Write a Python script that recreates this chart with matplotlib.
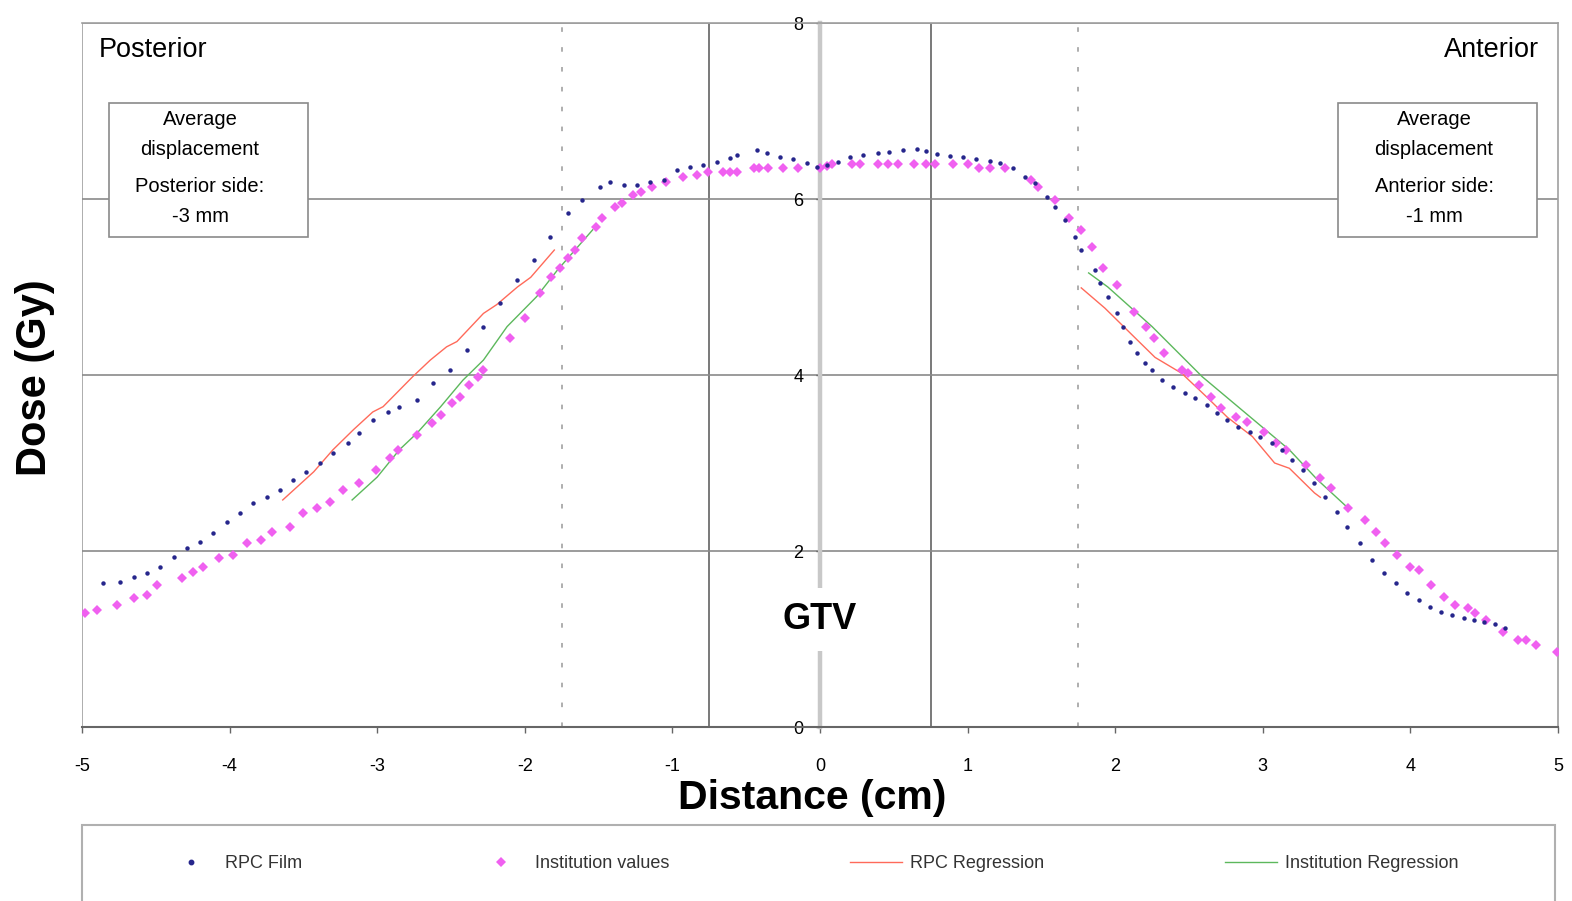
import matplotlib
matplotlib.use("Agg")
import matplotlib.pyplot as plt
from matplotlib.lines import Line2D
from matplotlib.patches import Rectangle

plt.rcParams["font.family"] = ["Liberation Sans", "DejaVu Sans"]
plt.rcParams["axes.unicode_minus"] = False

# ----------------------------------------------------------------------
# DATA
# ----------------------------------------------------------------------
film_x = [-4.86, -4.74, -4.65, -4.56, -4.47, -4.38, -4.29, -4.20, -4.11, -4.02,
          -3.93, -3.84, -3.75, -3.66, -3.57, -3.48, -3.39, -3.30, -3.20, -3.12,
          -3.03, -2.93, -2.85, -2.73, -2.62, -2.51, -2.39, -2.28, -2.17, -2.05,
          -1.94, -1.83, -1.71, -1.61, -1.49, -1.42, -1.33, -1.24, -1.15, -1.06,
          -0.97, -0.88, -0.79, -0.70, -0.61, -0.56, -0.43, -0.36, -0.27, -0.18,
          -0.09, -0.02, 0.05, 0.12, 0.20, 0.29, 0.39, 0.47, 0.56, 0.66,
          0.72, 0.79, 0.88, 0.97, 1.06, 1.15, 1.22, 1.31, 1.39, 1.46,
          1.54, 1.59, 1.66, 1.73, 1.77, 1.86, 1.90, 1.95, 2.01, 2.05,
          2.10, 2.15, 2.20, 2.25, 2.32, 2.39, 2.47, 2.54, 2.62, 2.69,
          2.76, 2.83, 2.91, 2.98, 3.06, 3.13, 3.20, 3.27, 3.35, 3.42,
          3.50, 3.57, 3.66, 3.74, 3.82, 3.90, 3.98, 4.06, 4.13, 4.21,
          4.28, 4.36, 4.43, 4.50, 4.57, 4.64]
film_dose = [1.64, 1.65, 1.70, 1.75, 1.82, 1.93, 2.03, 2.10, 2.20, 2.33,
             2.43, 2.55, 2.61, 2.69, 2.81, 2.90, 3.00, 3.11, 3.23, 3.34,
             3.49, 3.58, 3.64, 3.72, 3.91, 4.06, 4.28, 4.55, 4.82, 5.08,
             5.31, 5.57, 5.84, 5.99, 6.14, 6.19, 6.16, 6.16, 6.19, 6.22,
             6.33, 6.36, 6.39, 6.42, 6.47, 6.50, 6.56, 6.52, 6.48, 6.45,
             6.41, 6.36, 6.39, 6.42, 6.48, 6.50, 6.52, 6.53, 6.56, 6.57,
             6.55, 6.51, 6.49, 6.48, 6.45, 6.43, 6.41, 6.35, 6.25, 6.18,
             6.02, 5.91, 5.76, 5.57, 5.42, 5.19, 5.05, 4.89, 4.70, 4.55,
             4.38, 4.25, 4.14, 4.06, 3.94, 3.86, 3.80, 3.74, 3.66, 3.57,
             3.49, 3.41, 3.35, 3.30, 3.23, 3.15, 3.03, 2.92, 2.77, 2.61,
             2.44, 2.27, 2.09, 1.90, 1.75, 1.64, 1.52, 1.44, 1.36, 1.31,
             1.27, 1.24, 1.22, 1.19, 1.17, 1.12]

inst_x = [-4.98, -4.90, -4.76, -4.65, -4.56, -4.49, -4.32, -4.25, -4.18, -4.07,
          -3.98, -3.88, -3.79, -3.71, -3.59, -3.50, -3.41, -3.32, -3.23, -3.12,
          -3.01, -2.91, -2.86, -2.73, -2.63, -2.57, -2.49, -2.44, -2.38, -2.32,
          -2.28, -2.10, -2.00, -1.90, -1.82, -1.76, -1.71, -1.66, -1.61, -1.52,
          -1.48, -1.39, -1.34, -1.27, -1.21, -1.14, -1.04, -0.93, -0.83, -0.76,
          -0.66, -0.61, -0.56, -0.45, -0.41, -0.35, -0.25, -0.15, 0.00, 0.05,
          0.08, 0.22, 0.27, 0.39, 0.46, 0.53, 0.64, 0.72, 0.78, 0.90,
          1.00, 1.08, 1.15, 1.25, 1.43, 1.48, 1.59, 1.69, 1.77, 1.84,
          1.92, 2.01, 2.13, 2.21, 2.26, 2.33, 2.45, 2.49, 2.57, 2.65,
          2.72, 2.82, 2.89, 3.01, 3.09, 3.16, 3.29, 3.39, 3.46, 3.58,
          3.69, 3.77, 3.83, 3.91, 4.00, 4.06, 4.14, 4.23, 4.30, 4.39,
          4.44, 4.51, 4.63, 4.73, 4.78, 4.85, 4.99]
inst_dose = [1.30, 1.33, 1.39, 1.47, 1.50, 1.61, 1.69, 1.76, 1.82, 1.92,
             1.95, 2.09, 2.13, 2.22, 2.27, 2.43, 2.49, 2.56, 2.69, 2.77,
             2.92, 3.06, 3.15, 3.32, 3.45, 3.55, 3.68, 3.75, 3.89, 3.98,
             4.06, 4.42, 4.65, 4.93, 5.11, 5.22, 5.33, 5.42, 5.56, 5.68,
             5.78, 5.91, 5.95, 6.05, 6.08, 6.14, 6.19, 6.25, 6.27, 6.31,
             6.31, 6.31, 6.31, 6.35, 6.35, 6.35, 6.35, 6.35, 6.35, 6.38,
             6.40, 6.40, 6.40, 6.40, 6.40, 6.40, 6.40, 6.40, 6.40, 6.40,
             6.40, 6.35, 6.35, 6.35, 6.22, 6.14, 5.99, 5.78, 5.65, 5.45,
             5.22, 5.02, 4.72, 4.55, 4.42, 4.25, 4.06, 4.02, 3.89, 3.75,
             3.63, 3.52, 3.47, 3.35, 3.23, 3.15, 2.98, 2.83, 2.72, 2.49,
             2.35, 2.22, 2.09, 1.95, 1.82, 1.78, 1.61, 1.48, 1.39, 1.35,
             1.30, 1.22, 1.08, 0.99, 0.99, 0.93, 0.85]

# regression curves, posterior and anterior sides
rpc_reg_post_x = [-3.64, -3.43, -3.30, -3.16, -3.03, -2.96, -2.76, -2.64,
                  -2.53, -2.46, -2.28, -2.19, -2.05, -1.96, -1.80]
rpc_reg_post_dose = [2.58, 2.90, 3.15, 3.38, 3.58, 3.64, 3.98, 4.17,
                     4.32, 4.38, 4.70, 4.80, 5.00, 5.11, 5.42]
rpc_reg_ant_x = [1.77, 1.93, 2.13, 2.27, 2.45, 2.62, 2.76, 2.93, 3.08, 3.18, 3.35, 3.39]
rpc_reg_ant_dose = [4.99, 4.76, 4.43, 4.20, 4.02, 3.75, 3.52, 3.30, 3.00, 2.94, 2.66, 2.61]

inst_reg_post_x = [-3.17, -3.00, -2.85, -2.73, -2.57, -2.42, -2.28, -2.12, -1.92, -1.78, -1.54]
inst_reg_post_dose = [2.58, 2.84, 3.15, 3.34, 3.64, 3.94, 4.17, 4.55, 4.89, 5.19, 5.65]
inst_reg_ant_x = [1.82, 1.95, 2.25, 2.59, 2.86, 3.18, 3.37, 3.57]
inst_reg_ant_dose = [5.16, 5.00, 4.55, 3.98, 3.60, 3.15, 2.81, 2.50]

gtv_edges = [-0.75, 0.75]
margin_edges = [-1.75, 1.75]
x_ticks = list(range(-5, 6))
y_ticks = [0, 2, 4, 6, 8]

BLUE = "#26268c"
PINK = "#f060f0"
RED = "#ff6a5a"
GREEN = "#5cb85c"

W, H = 1572, 901


def main():
    fig = plt.figure(figsize=(W / 100, H / 100), dpi=100)
    ax = fig.add_axes([82 / W, 1 - 727 / H, (1558 - 82) / W, (727 - 23) / H])
    ax.set_xlim(-5, 5)
    ax.set_ylim(0, 8)

    # spines: y axis sits at x = 0
    ax.spines["left"].set_position(("data", 0))
    ax.spines["left"].set_color("#c8c8c8")
    ax.spines["left"].set_linewidth(3.2)
    ax.spines["bottom"].set_color("#666666")
    ax.spines["bottom"].set_linewidth(1.5)
    for side in ("top", "right"):
        ax.spines[side].set_color("#a0a0a0")
        ax.spines[side].set_linewidth(1.2)
    ax.axvline(-5, color="#a0a0a0", lw=1.2, zorder=1)

    ax.set_xticks(x_ticks)
    ax.set_yticks(y_ticks)
    ax.tick_params(axis="x", length=4, width=1, color="#666666", pad=18,
                   labelsize=13)
    ax.tick_params(axis="y", length=3, width=1, color="#555555", pad=9,
                   labelsize=13)
    ax.grid(axis="y", color="#8a8a8a", lw=1.2, zorder=1)

    for xe in gtv_edges:
        ax.axvline(xe, color="#555555", lw=1.1, zorder=1)
    for xe in margin_edges:
        ax.axvline(xe, color="#999999", lw=1.1, ls=(0, (3, 10)), zorder=1)

    # data
    ax.plot(rpc_reg_post_x, rpc_reg_post_dose, color=RED, lw=1, zorder=3)
    ax.plot(rpc_reg_ant_x, rpc_reg_ant_dose, color=RED, lw=1, zorder=3)
    ax.plot(inst_reg_post_x, inst_reg_post_dose, color=GREEN, lw=1, zorder=3)
    ax.plot(inst_reg_ant_x, inst_reg_ant_dose, color=GREEN, lw=1, zorder=3)
    ax.plot(inst_x, inst_dose, ls="", marker="D", ms=5, color=PINK, mew=0,
            zorder=3)
    ax.plot(film_x, film_dose, ls="", marker="o", ms=3.2, color=BLUE, mew=0,
            zorder=4)

    # labels and annotations
    ax.set_xlabel("Distance (cm)", fontsize=29.5, fontweight="bold", va="center")
    ax.xaxis.set_label_coords((812 - 82) / 1476, (727 - 798) / 704)
    ax.set_ylabel("Dose (Gy)", fontsize=30, fontweight="bold", va="center")
    ax.yaxis.set_label_coords((35 - 82) / 1476, (727 - 378) / 704)

    ax.text(-4.885, 7.69, "Posterior", fontsize=19.5, ha="left", va="center")
    ax.text(4.87, 7.69, "Anterior", fontsize=19.5, ha="right", va="center")
    ax.text(0, 1.22, "GTV", fontsize=26, fontweight="bold", ha="center",
            va="center", zorder=6,
            bbox=dict(facecolor="white", edgecolor="none", pad=10))

    boxes = [(-4.82, -4.20, "Posterior side:", "-3 mm"),
             (3.51, 4.16, "Anterior side:", "-1 mm")]
    for x0, xc, side, shift in boxes:
        ax.add_patch(Rectangle((x0, 5.57), 1.35, 1.52, facecolor="white",
                               edgecolor="#8a8a8a", lw=1.2, zorder=5))
        for yy, line in zip([6.90, 6.56, 6.14, 5.80],
                            ["Average", "displacement", side, shift]):
            ax.text(xc, yy, line, fontsize=14.5, ha="center", va="center",
                    zorder=6)

    # legend frame below the plot
    fig.add_artist(Rectangle((82 / W, -0.02), (1555 - 82) / W,
                             (901 - 825) / H + 0.02, transform=fig.transFigure,
                             fill=False, edgecolor="#b0b0b0", lw=1.5))
    entries = [
        (Line2D([], [], ls="", marker="o", ms=3.2, color=BLUE), "RPC Film", 165),
        (Line2D([], [], ls="", marker="D", ms=5, color=PINK, mew=0),
         "Institution values", 475),
        (Line2D([], [], color=RED, lw=1), "RPC Regression", 850),
        (Line2D([], [], color=GREEN, lw=1), "Institution Regression", 1225),
    ]
    for handle, label, px in entries:
        fig.legend(handles=[handle], labels=[label], loc="center left",
                   bbox_to_anchor=(px / W, 1 - 864 / H), frameon=False,
                   fontsize=13, handlelength=2.9, handletextpad=0.45,
                   borderpad=0, borderaxespad=0, labelcolor="#333333")

    fig.savefig("out.png", dpi=100)
    plt.close(fig)


if __name__ == "__main__":
    main()
